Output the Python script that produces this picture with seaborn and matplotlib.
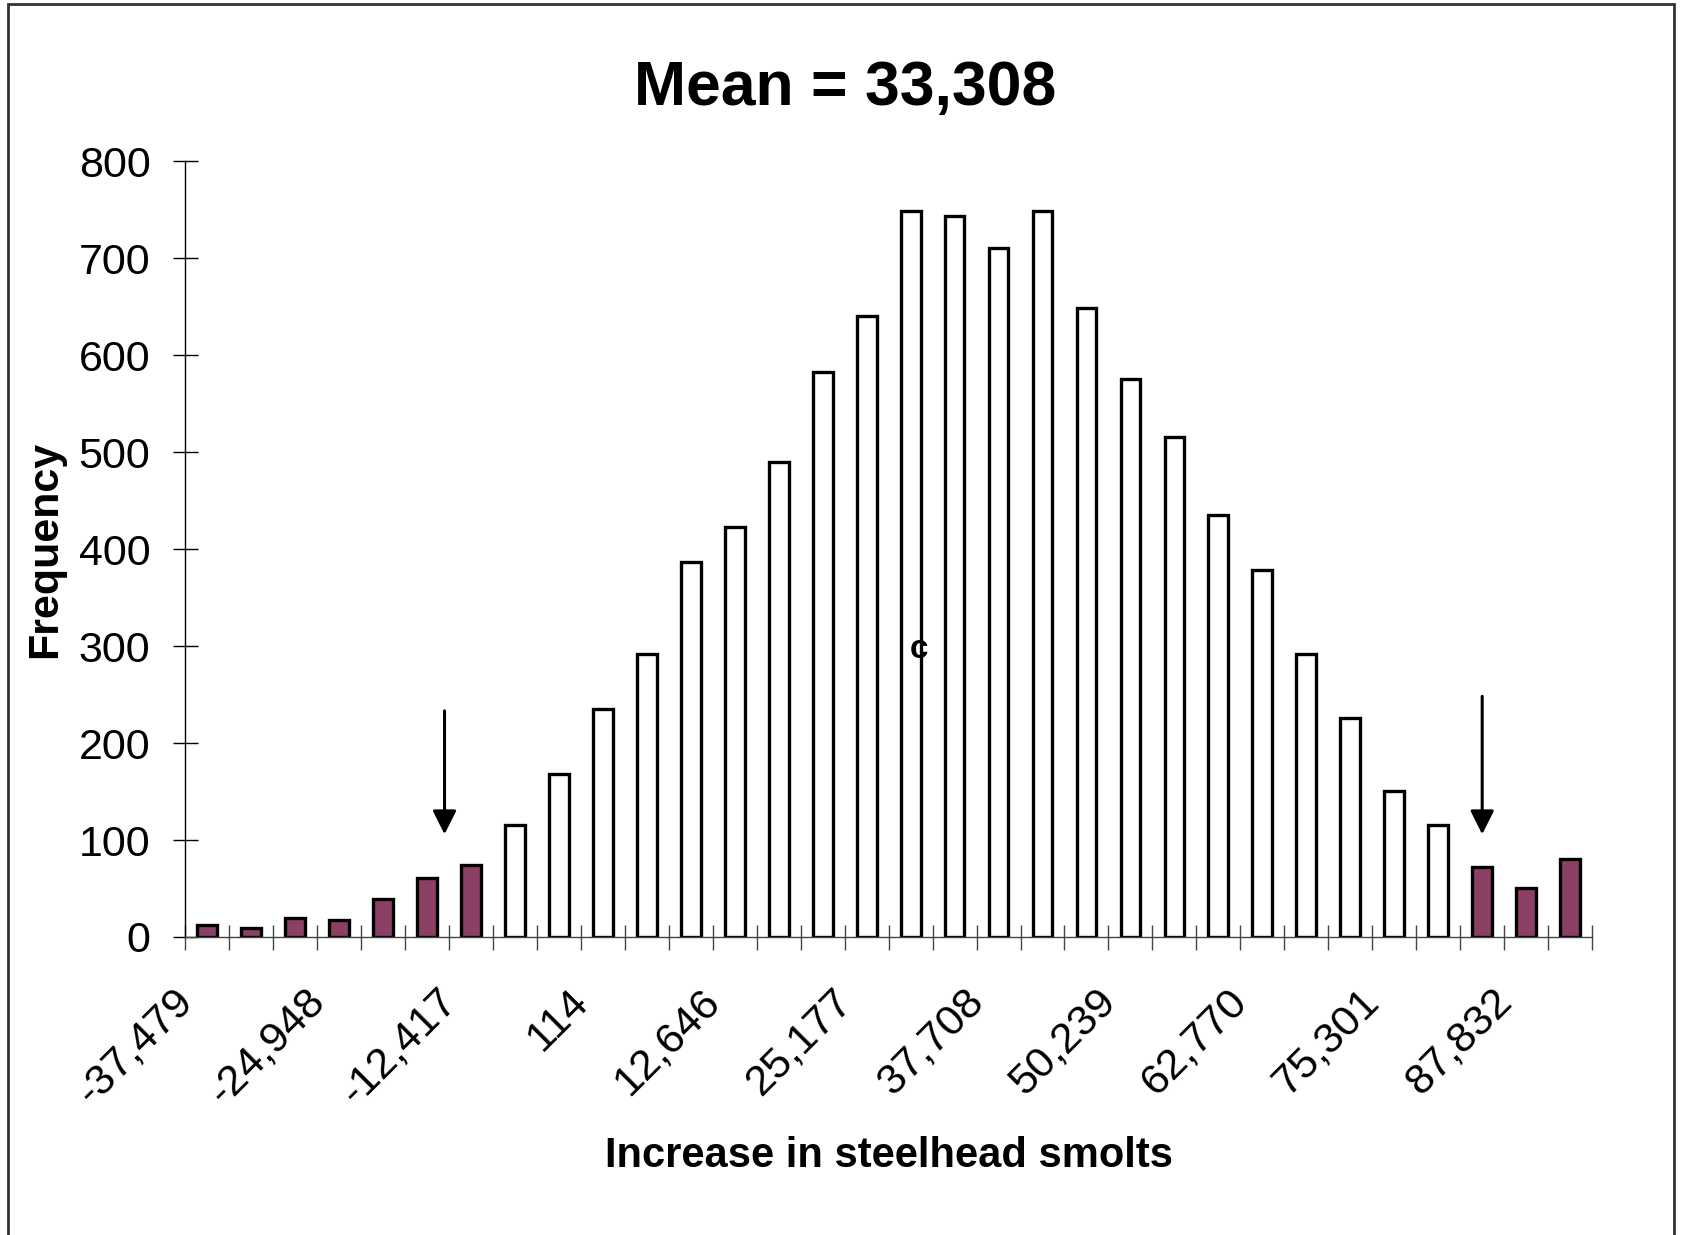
import numpy as np
import pandas as pd
import seaborn as sns
import matplotlib.pyplot as plt
import matplotlib.transforms as mtransforms
from matplotlib.patches import Rectangle

# bin frequencies (32 bins)
freq = [12, 9, 20, 18, 39, 61, 74, 115, 168, 235, 292, 387, 423, 490, 583, 640,
        748, 743, 710, 748, 648, 575, 515, 435, 378, 292, 226, 151, 115, 72, 51, 80]
# bins in the tails are shaded
tail_bins = [0, 1, 2, 3, 4, 5, 6, 29, 30, 31]
# labels on every third bin
tick_labels = ["-37,479", "-24,948", "-12,417", "114", "12,646", "25,177",
               "37,708", "50,239", "62,770", "75,301", "87,832"]

df = pd.DataFrame({"bin": range(len(freq)), "freq": freq})
df["tail"] = np.where(df["bin"].isin(tail_bins), "tail", "body")

sns.set_style("white")
plt.rcParams['font.family'] = ['Liberation Sans', 'DejaVu Sans']
plt.rcParams['text.color'] = 'black'
plt.rcParams['axes.labelcolor'] = 'black'
plt.rcParams['xtick.color'] = 'black'
plt.rcParams['ytick.color'] = 'black'

fig = plt.figure(figsize=(16.83, 12.35), dpi=100)
ax = fig.add_axes([0.110, 0.2413, 0.836, 0.6283])

sns.barplot(data=df, x="bin", y="freq", hue="tail", dodge=False,
            palette={"tail": "#993366", "body": "white"}, width=0.45,
            edgecolor="black", linewidth=2.4, legend=False, ax=ax)

ax.set_xlim(-0.5, len(freq) - 0.5)
ax.set_ylim(0, 800)
ax.set_yticks(range(0, 801, 100))
ax.tick_params(axis="y", left=True, direction="inout", length=18, width=1,
               labelsize=31, pad=16)

ax.set_xticks(range(0, len(freq), 3))
ax.set_xticklabels(tick_labels, rotation=45, ha="right", va="top",
                   rotation_mode="anchor", fontsize=31)
ax.set_xticks(np.arange(-0.5, len(freq), 1), minor=True)
ax.tick_params(axis="x", which="major", bottom=True, length=0, pad=32)
ax.tick_params(axis="x", which="minor", bottom=True, direction="inout", length=18,
               width=1, color="#444444")
# nudge the rotated labels so they end left of their bar
shift = mtransforms.ScaledTranslation(-0.35, 0.0, fig.dpi_scale_trans)
for lab in ax.get_xticklabels():
    lab.set_transform(lab.get_transform() + shift)

for side in ["top", "right"]:
    ax.spines[side].set_visible(False)
ax.spines["left"].set_linewidth(1)
ax.spines["left"].set_color("black")
ax.spines["bottom"].set_linewidth(1)
ax.spines["bottom"].set_color("#444444")

ax.set_xlabel("Increase in steelhead smolts", fontsize=30, fontweight="bold", labelpad=17)
ax.set_ylabel("Frequency", fontsize=31, fontweight="bold", labelpad=10)
fig.text(0.502, 0.928, "Mean = 33,308", fontsize=45, fontweight="bold", ha="center", va="center")

# arrows marking the tails
ax.annotate("", xy=(5.4, 103), xytext=(5.4, 236),
            arrowprops=dict(arrowstyle="-|>", color="black", lw=2.2, mutation_scale=36))
ax.annotate("", xy=(29.0, 103), xytext=(29.0, 251),
            arrowprops=dict(arrowstyle="-|>", color="black", lw=2.2, mutation_scale=36))
ax.text(16.2, 296, "c", fontsize=24, fontweight="bold", ha="center", va="center")

fig.patches.append(Rectangle((8 / 1683, -0.05), 1666 / 1683, 1.05 - 4 / 1235,
                             transform=fig.transFigure, fill=False,
                             edgecolor="#333333", linewidth=2))

fig.savefig("out.png", dpi=100)
